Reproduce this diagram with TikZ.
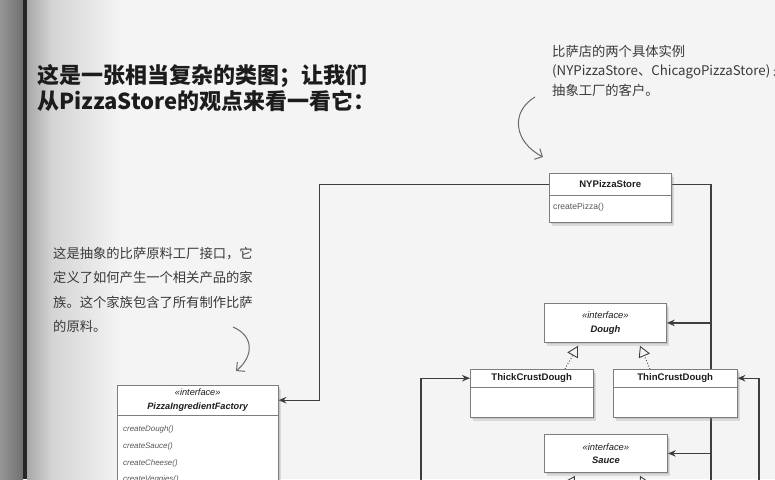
\documentclass[tikz,border=0pt]{standalone}
\usepackage{fontspec}
\setmainfont{Liberation Sans}
\newfontfamily\cjk{Noto Sans CJK SC}
\usepackage{tikz}
\usetikzlibrary{
  arrows.meta,
  positioning, calc,
  shadows
}
\definecolor{paper}{RGB}{244,244,244}
\definecolor{bindA}{RGB}{150,150,150}
\definecolor{bindB}{RGB}{112,112,112}
\definecolor{bindline}{RGB}{38,38,38}
\definecolor{gutterA}{RGB}{168,168,168}
\definecolor{gutterB}{RGB}{212,212,212}
\definecolor{titleink}{RGB}{28,28,28}
\definecolor{noteink}{RGB}{58,58,58}
\definecolor{curlgray}{RGB}{105,105,105}
\definecolor{umlgray}{RGB}{125,125,125}
\definecolor{umlink}{RGB}{30,30,30}
\definecolor{methodink}{RGB}{88,88,88}
\definecolor{wiregray}{RGB}{62,62,62}
\pgfdeclarelayer{sheet}
\pgfdeclarelayer{wires}
\pgfsetlayers{sheet,wires,main}
\tikzset{
  headline/.style={anchor=base west,inner sep=0pt,text=titleink,font=\cjk\bfseries\fontsize{22}{26}\selectfont},
  handnote/.style={anchor=base west,inner sep=0pt,text=noteink,font=\cjk\fontsize{13.3}{16}\selectfont},
  umlbox/.style={rectangle,anchor=north west,inner sep=0pt,draw=umlgray,line width=0.8pt,fill=white,
    drop shadow={shadow xshift=3pt,shadow yshift=-3.5pt,opacity=0.22},
    drop shadow={shadow xshift=1.5pt,shadow yshift=-1.8pt,opacity=0.22}},
  ifacebox/.style={umlbox,align=center,text=umlink,font=\fontsize{9.4}{13.5}\selectfont},
  classname/.style={anchor=north west,inner sep=0pt,text=umlink,font=\fontsize{9.6}{11}\selectfont\bfseries},
  divider/.style={draw=umlgray,line width=0.8pt},
  method/.style={anchor=west,inner sep=0pt,text=methodink,font=\fontsize{7.9}{9}\selectfont\itshape},
  plainmethod/.style={method,font=\fontsize{8.6}{9}\selectfont},
  wire/.style={line width=1.3pt,draw=wiregray},
  assoc/.style={wire,-{Stealth[length=8pt,width=6.5pt]}},
  realize/.style={-{Triangle[open,length=11pt,width=12pt]},dotted,line width=0.9pt,draw=wiregray},
  curl/.style={-{Straight Barb[length=6pt,width=12pt]},line width=1pt,draw=curlgray}
}

\begin{document}
\begin{tikzpicture}[x=1pt,y=-1pt]
  \useasboundingbox (0,0) rectangle (775,479);
  % page and binding
  \begin{pgfonlayer}{sheet}
    \fill[paper] (0,0) rectangle (775,479);
    \shade[left color=bindA,right color=bindB] (0,0) rectangle (23,479);
    \fill[bindline] (23,0) rectangle (27,479);
    \shade[left color=gutterA,right color=gutterB] (27,0) rectangle (52,479);
    \shade[left color=gutterB,right color=paper] (52,0) rectangle (120,479);
  \end{pgfonlayer}

  % texts
  \foreach \t [count=\i] in {{这是一张相当复杂的类图；让我们},{从PizzaStore的观点来看一看它：}}
    \node[headline] (head\i) at (37,{83.4+26*(\i-1)}) {\t};
  \foreach \t [count=\i] in {{比萨店的两个具体实例},{(NYPizzaStore、ChicagoPizzaStore) 是},{抽象工厂的客户。}}
    \node[handnote] (clientnote\i) at (552,{56+19.5*(\i-1)}) {\t};
  \foreach \t [count=\i] in {{这是抽象的比萨原料工厂接口，它},{定义了如何产生一个相关产品的家},{族。这个家族包含了所有制作比萨},{的原料。}}
    \node[handnote] (factorynote\i) at (53,{258+24.5*(\i-1)}) {\t};

  % classes
  \node[umlbox,minimum width=122pt,minimum height=49pt] (ny) at (549,173) {};
  \node[classname,minimum width=122pt,minimum height=22pt] (nyt) at (ny.north west) {NYPizzaStore};
  \draw[divider] (nyt.south west) -- (nyt.south east);
  \node[plainmethod] at ($(ny.north west)+(4,34)$) {createPizza()};

  \node[ifacebox,minimum width=122pt,minimum height=39pt] (dough) at (544,303)
    {{\itshape<<interface>>}\\{\bfseries\itshape Dough}};

  \node[umlbox,minimum width=123pt,minimum height=48pt] (thick) at (470,369) {};
  \node[classname,minimum width=123pt,minimum height=18pt] (thickt) at (thick.north west) {ThickCrustDough};
  \draw[divider] (thickt.south west) -- (thickt.south east);

  \node[umlbox,minimum width=124pt,minimum height=48pt] (thin) at (613,369) {};
  \node[classname,minimum width=124pt,minimum height=18pt] (thint) at (thin.north west) {ThinCrustDough};
  \draw[divider] (thint.south west) -- (thint.south east);

  \node[ifacebox,minimum width=123pt,minimum height=38pt] (sauce) at (544,434)
    {{\itshape<<interface>>}\\{\bfseries\itshape Sauce}};

  \node[umlbox,minimum width=161pt,minimum height=180pt] (pif) at (117,385) {};
  \node[classname,minimum width=161pt,minimum height=30pt,align=center,font=\fontsize{9.2}{13.5}\selectfont]
    (pift) at (pif.north west) {{\itshape<<interface>>}\\{\bfseries\itshape PizzaIngredientFactory}};
  \draw[divider] (pift.south west) -- (pift.south east);
  \foreach \m [count=\i] in {createDough(),createSauce(),createCheese(),createVeggies()}
    \node[method] at ($(pif.north west)+(6,28+16.7*\i)$) {\m};

  % realization arrows
  \draw[realize] ($(thick.north west)+(95,0)$) -- ($(dough.south west)+(34,3)$);
  \draw[realize] ($(thin.north west)+(37,0)$) -- ($(dough.south west)+(96,3)$);
  \coordinate (subA) at (560,500);
  \coordinate (subB) at (652,500);
  \draw[realize] (subA) -- ($(sauce.south west)+(31,3)$);
  \draw[realize] (subB) -- ($(sauce.south west)+(96,3)$);

  % associations
  \begin{pgfonlayer}{wires}
    \coordinate (trunkEnd) at (711,495);
    \coordinate (outerEnd) at (759,495);
    \coordinate (leftEnd) at (421,495);
    \draw[assoc] (nyt.west) -| ($(pift.east)+(41,0)$) -- (pift.east);
    \draw[wire] (nyt.east) -| (trunkEnd);
    \draw[assoc] (dough.east -| trunkEnd) -- (dough.east);
    \draw[assoc] (sauce.east -| trunkEnd) -- (sauce.east);
    \draw[assoc] (outerEnd) |- (thint.east);
    \draw[assoc] (leftEnd) |- (thickt.west);
  \end{pgfonlayer}

  % hand-drawn pointers
  \coordinate (curlA) at (535,97);
  \coordinate (curlATip) at (543,157);
  \coordinate (curlB) at (233,327);
  \coordinate (curlBTip) at (236,371);
  \draw[curl] (curlA) .. controls (510,112) and (514,142) .. (curlATip);
  \draw[curl] (curlB) .. controls (254,336) and (254,356) .. (curlBTip);
\end{tikzpicture}
\end{document}
